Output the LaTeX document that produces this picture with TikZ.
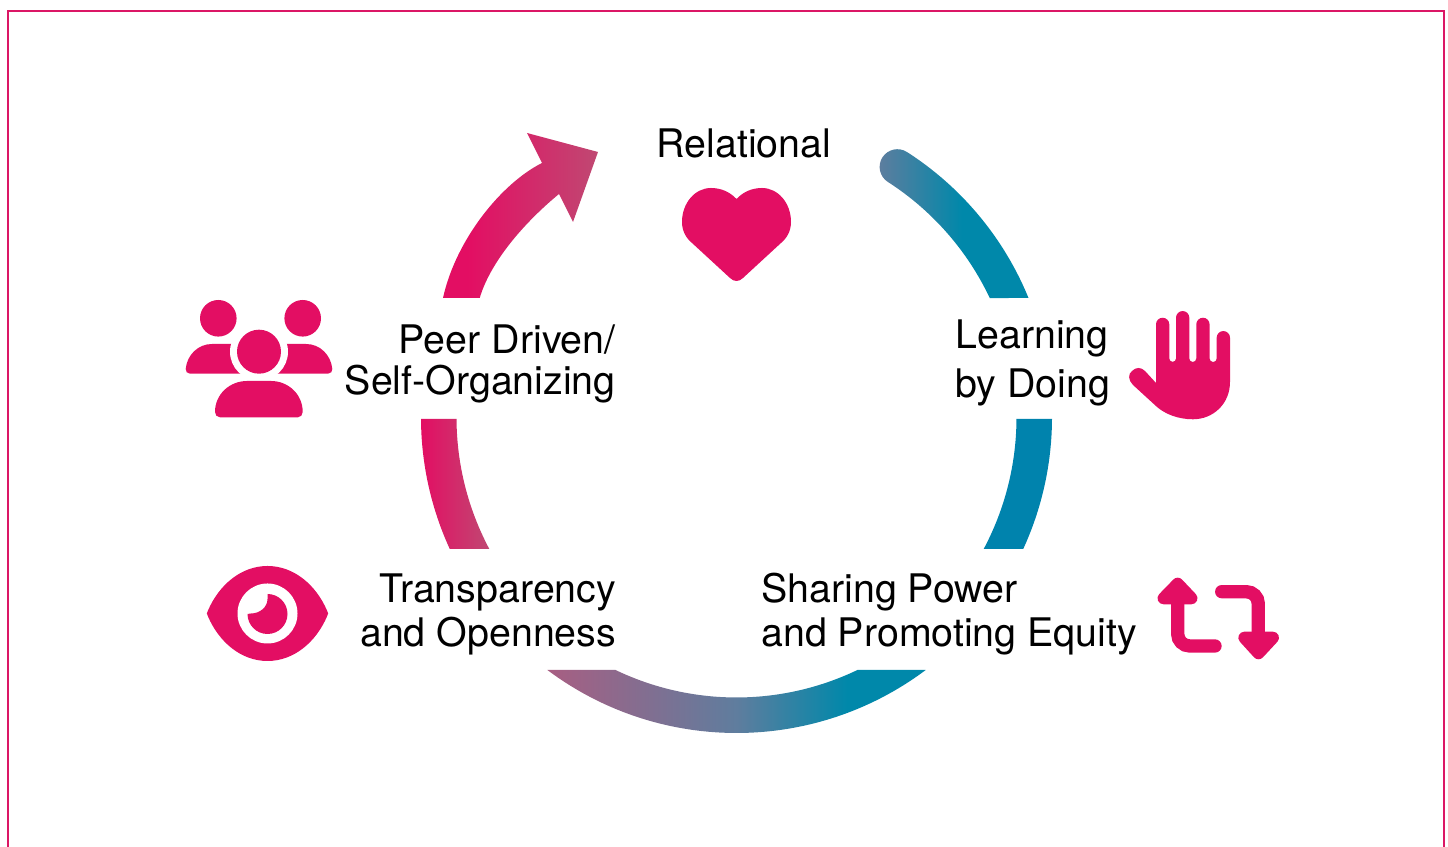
\documentclass[tikz,border=0pt]{standalone}
\usepackage{fontspec}
\setmainfont{TeX Gyre Heros}
\definecolor{ringpink}{HTML}{E30E63}
\definecolor{ringblue}{HTML}{0088AA}
\definecolor{fadepink}{HTML}{C04872}
\definecolor{fadegrey}{HTML}{5F7D9E}
\definecolor{fademauve}{HTML}{A85E82}
\pgfdeclarehorizontalshading{bottomfade}{100bp}{color(0bp)=(fademauve); color(25bp)=(fademauve); color(50bp)=(fadegrey); color(64.6bp)=(ringblue); color(100bp)=(ringblue)}
\pgfdeclarehorizontalshading{arrowfade}{100bp}{color(0bp)=(ringpink); color(33bp)=(ringpink); color(75bp)=(fadepink); color(100bp)=(fadepink)}
\pgfdeclarehorizontalshading{topfade}{100bp}{color(0bp)=(fadegrey); color(25bp)=(fadegrey); color(53bp)=(ringblue); color(100bp)=(ringblue)}
\tikzset{
  ringtext/.style={font=\fontsize{22.4}{25}\selectfont, text=black, inner sep=0pt},
  icon/.style={fill=ringpink, draw=none},
  iconline/.style={draw=ringpink, line width=0.266cm, rounded corners=0.24cm, line cap=round},
  iconhead/.style={fill=ringpink, draw=ringpink, line width=0.24cm, line join=round}
}
\begin{document}
\begin{tikzpicture}[x=0.02cm,y=0.02cm]
\useasboundingbox (0,0) rectangle (1448,847);
\draw[ringpink!92!gray, line width=0.045cm] (8,0) -- (8,836) -- (1444,836) -- (1444,0);
% ring
\path[shading=arrowfade] (443,549) .. controls (456,608) and (502,664) .. (542,684) -- (527,714) -- (598,695) -- (573,625) -- (559,653) .. controls (531,630) and (492,590) .. (479.7,549) -- cycle;
\path[shading=topfade] (1028.5,549) arc (22.26:57.3:315.5) arc (57.3:237.3:17.75) arc (57.3:25.26:280) -- cycle;
\path[fill=ringblue!96!blue] (1052,428) arc (-0.3:-24.63:315.5) -- (983.7,298) arc (-28.01:-0.3:280) -- cycle;
\path[shading=bottomfade] (925.7,177) arc (-53.16:-126.84:315.5) -- (615.5,177) arc (-115.6:-64.4:280) -- cycle;
\path[shade, left color=ringpink, right color=fadepink] (421,428) arc (180.3:204.63:315.5) -- (489.3,298) arc (208.01:180.3:280) -- cycle;
% labels
\node[ringtext] (relational) at (744,704) {Relational};
\node[ringtext, align=right, anchor=east] (peer) at (616,483.2) {Peer Driven/\\[-1.7pt]Self-Organizing};
\node[ringtext, align=left, anchor=east] (learning) at (1110.5,484) {Learning\\[2.5pt]by Doing};
\node[ringtext, align=right, anchor=east] (transparency) at (616.5,232.5) {Transparency\\[0.5pt]and Openness};
\node[ringtext, align=left, anchor=west] (sharing) at (761,232.8) {Sharing Power\\[0.2pt]and Promoting Equity};
% heart
\fill[icon] (736.5,648) .. controls (730,655) and (721,659) .. (711,659) .. controls (695,659) and (682,644) .. (682,625) .. controls (682,616) and (686,609) .. (692,604) -- (730,569) .. controls (734,565) and (739,565) .. (743,569) -- (781,604) .. controls (787,609) and (791,616) .. (791,625) .. controls (791,644) and (778,659) .. (762,659) .. controls (752,659) and (743,655) .. (736.5,648) -- cycle;
% people
\fill[icon] (218.3,528.7) circle (18.3);
\fill[icon] (302.7,528.7) circle (18.3);
\fill[icon] (190,473.3) .. controls (187,473.3) and (185.7,475.5) .. (185.7,478) .. controls (187,492) and (198,503) .. (212,503) -- (250,503) -- (250,473.3) -- cycle;
\fill[icon] (328,473.3) .. controls (331,473.3) and (332.3,475.5) .. (332.3,478) .. controls (331,492) and (320,503) .. (306,503) -- (268,503) -- (268,473.3) -- cycle;
\fill[white] (259,495.3) circle (29);
\fill[icon] (259,495.3) circle (22);
\fill[icon] (220,429.7) .. controls (217,429.7) and (215,432) .. (215,435) .. controls (215,453) and (230,466) .. (247,466) -- (271,466) .. controls (288,466) and (302.7,453) .. (302.7,435) .. controls (302.7,432) and (300.5,429.7) .. (298,429.7) -- cycle;
% hand
\fill[icon] (1156,464) -- (1156,522.6) arc (180:0:6.65) -- (1169.3,488.5) arc (180:360:3.35) -- (1176,529.3) arc (180:0:6.65) -- (1189.3,488.5) arc (180:360:3.5) -- (1196.3,522.6) arc (180:0:6.65) -- (1209.6,488.5) arc (180:360:3.55) -- (1216.7,509.3) arc (180:0:6.65) -- (1230,465) .. controls (1230,443) and (1213,427.7) .. (1193,427.7) .. controls (1178,427.7) and (1165,433) .. (1156.7,440.3) -- (1133,462) .. controls (1128,467) and (1128,473) .. (1132,476) .. controls (1136,480) and (1141,480) .. (1145,476) -- cycle;
% eye
\fill[icon] (208,236.5) .. controls (219,262) and (241,281) .. (267.5,281) .. controls (294,281) and (316,262) .. (327,236.5) .. controls (328.5,234.5) and (328.5,232.5) .. (327,230.5) .. controls (316,205) and (294,186) .. (267.5,186) .. controls (241,186) and (219,205) .. (208,230.5) .. controls (206.5,232.5) and (206.5,234.5) .. (208,236.5) -- cycle;
\fill[white] (267.5,233.5) circle (30);
\fill[icon] (267.5,253) arc (90:-180:20) -- (251,233.5) .. controls (260,233.5) and (267.5,240) .. (267.5,248) -- cycle;
% swap arrows
\draw[iconline] (1177.7,247) -- (1177.7,201) -- (1215,201);
\draw[iconhead] (1163.5,248.7) -- (1177.7,263.3) -- (1191.5,248.7) -- cycle;
\draw[iconline] (1221.7,255.3) -- (1258.3,255.3) -- (1258.3,215);
\draw[iconhead] (1244.3,209.3) -- (1258.5,193.7) -- (1273,209.3) -- cycle;
\end{tikzpicture}
\end{document}
